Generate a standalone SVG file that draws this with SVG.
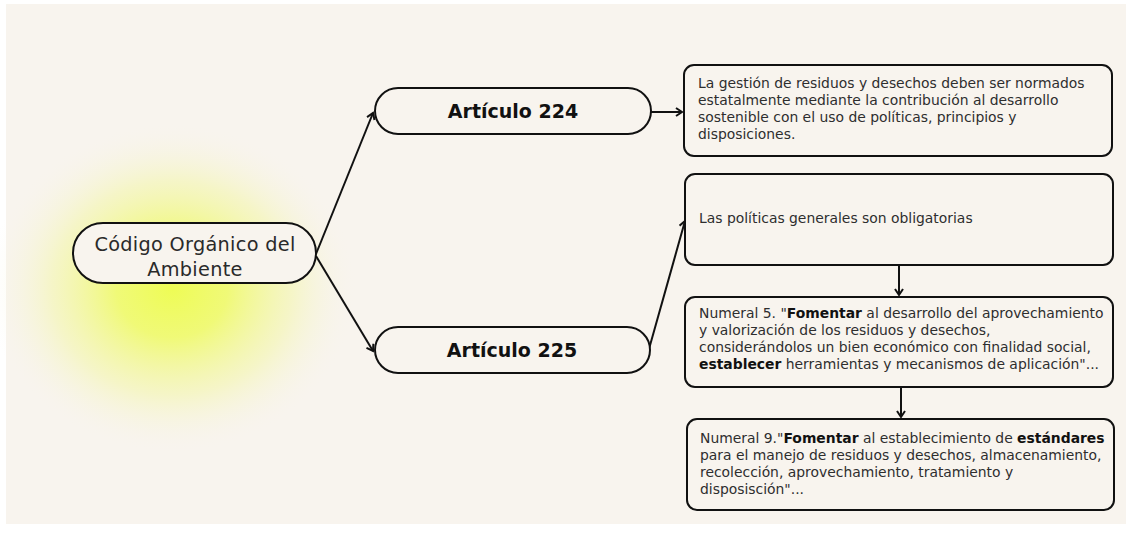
<svg xmlns="http://www.w3.org/2000/svg" width="1134" height="534" viewBox="0 0 1134 534">
<defs>
<style>
.bg{fill:#f8f4ee}
.shape{fill:#f8f4ee;stroke:#111;stroke-width:2}
.conn{fill:none;stroke:#111;stroke-width:2}
.t{font-family:"DejaVu Sans","Liberation Sans",Arial,sans-serif;fill:#2e2e2e;font-size:13.9px}
.c{font-family:"DejaVu Sans","Liberation Sans",Arial,sans-serif;fill:#2a2a2a;font-size:19.3px;letter-spacing:0.3px;text-anchor:middle}
.h{font-family:"DejaVu Sans","Liberation Sans",Arial,sans-serif;fill:#111;font-size:19px;font-weight:bold;text-anchor:middle}
.b{font-weight:bold;fill:#111}
</style>
<radialGradient id="glow" cx="0.5" cy="0.5" r="0.5">
<stop offset="0" stop-color="#eefc55"/>
<stop offset="0.3" stop-color="#effa6a" stop-opacity="0.9"/>
<stop offset="0.65" stop-color="#f3f6a8" stop-opacity="0.55"/>
<stop offset="1" stop-color="#f8f4ee" stop-opacity="0"/>
</radialGradient>
<marker id="arr" markerWidth="10" markerHeight="10" refX="7" refY="5" orient="auto" markerUnits="userSpaceOnUse">
<path d="M1,1 L7,5 L1,9" fill="none" stroke="#111" stroke-width="2"/>
</marker>
</defs>
<rect width="1134" height="534" fill="#ffffff"/>
<rect class="bg" x="6" y="4" width="1120" height="520"/>
<ellipse cx="172" cy="288" rx="185" ry="165" fill="url(#glow)"/>

<g id="connectors">
<line class="conn" x1="316" y1="254" x2="373" y2="113" marker-end="url(#arr)"/>
<line class="conn" x1="316" y1="256" x2="373" y2="351" marker-end="url(#arr)"/>
<line class="conn" x1="651" y1="112" x2="682" y2="112" marker-end="url(#arr)"/>
<line class="conn" x1="649" y1="349" x2="685" y2="221" marker-end="url(#arr)"/>
<line class="conn" x1="899" y1="266" x2="899" y2="295" marker-end="url(#arr)"/>
<line class="conn" x1="901" y1="388" x2="901" y2="417" marker-end="url(#arr)"/>
</g>

<g id="codigo">
<rect class="shape" x="73" y="223" width="243" height="60" rx="30"/>
<text class="c" x="195" y="251">Código Orgánico del</text>
<text class="c" x="195" y="276">Ambiente</text>
</g>

<g id="art224">
<rect class="shape" x="375" y="88" width="276" height="46" rx="23"/>
<text class="h" x="513" y="118">Artículo 224</text>
</g>

<g id="art225">
<rect class="shape" x="375" y="327" width="275" height="46" rx="23"/>
<text class="h" x="512" y="357">Artículo 225</text>
</g>

<g id="box1">
<rect class="shape" x="684" y="65" width="428" height="91" rx="10"/>
<text class="t" x="698" y="88">La gestión de residuos y desechos deben ser normados</text>
<text class="t" x="698" y="105">estatalmente mediante la contribución al desarrollo</text>
<text class="t" x="698" y="122">sostenible con el uso de políticas, principios y</text>
<text class="t" x="698" y="139">disposiciones.</text>
</g>

<g id="box2">
<rect class="shape" x="685" y="174" width="428" height="91" rx="10"/>
<text class="t" x="699" y="223">Las políticas generales son obligatorias</text>
</g>

<g id="box3">
<rect class="shape" x="685" y="297" width="428" height="90" rx="10"/>
<text class="t" x="699" y="318">Numeral 5. "<tspan class="b">Fomentar</tspan> al desarrollo del aprovechamiento</text>
<text class="t" x="699" y="335">y valorización de los residuos y desechos,</text>
<text class="t" x="699" y="352">considerándolos un bien económico con finalidad social,</text>
<text class="t" x="699" y="369"><tspan class="b">establecer</tspan>  herramientas y mecanismos de aplicación"...</text>
</g>

<g id="box4">
<rect class="shape" x="687" y="419" width="427" height="91" rx="10"/>
<text class="t" x="700" y="443">Numeral 9."<tspan class="b">Fomentar</tspan> al establecimiento de <tspan class="b">estándares</tspan></text>
<text class="t" x="700" y="460">para el manejo de residuos y desechos, almacenamiento,</text>
<text class="t" x="700" y="477">recolección, aprovechamiento, tratamiento y</text>
<text class="t" x="700" y="494">disposisción"...</text>
</g>
</svg>
